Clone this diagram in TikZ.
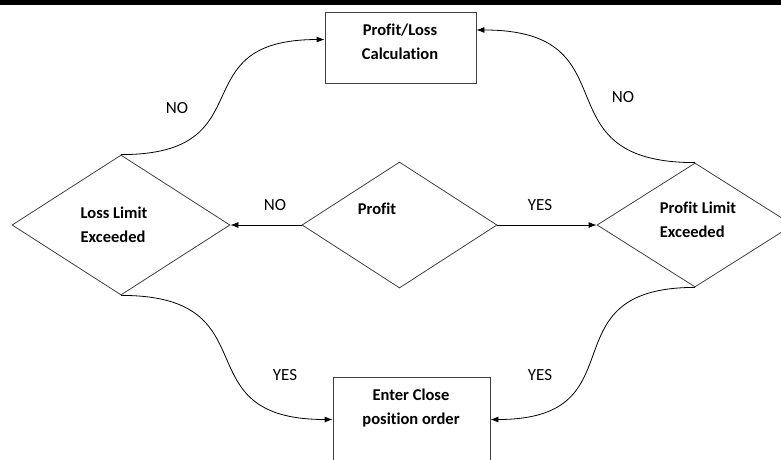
\documentclass[tikz,border=0pt]{standalone}
\usepackage{fontspec}
\setmainfont{Carlito}[Ligatures=NoCommon]
\usetikzlibrary{shapes.geometric,arrows.meta}

\tikzset{
  decision/.style={diamond, draw=black!75, line width=0.8pt, inner sep=0pt},
  stepbox/.style={rectangle, draw=black!75, line width=0.8pt, inner sep=0pt},
  boxtext/.style={font=\bfseries\fontsize{16.5}{24}\selectfont, align=left},
  answer/.style={font=\fontsize{17}{20}\selectfont},
  flow/.style={-{Latex[length=8pt,width=6pt]}, line width=0.8pt},
}

\begin{document}
\begin{tikzpicture}[x=1pt, y=-1pt]
  \clip (0,0) rectangle (781,459);
  \fill[black] (0,0) rectangle (781,4.5);

  % Boites
  \node[stepbox, minimum width=151pt, minimum height=71pt] (calc) at (400.5,47.5) {};
  \node[stepbox, minimum width=157pt, minimum height=85pt] (close) at (411.5,419.5) {};

  % Losanges
  \node[decision, minimum width=218pt, minimum height=140pt] (loss) at (121,225) {};
  \node[decision, minimum width=195pt, minimum height=126pt] (profit) at (399.5,225) {};
  \node[decision, minimum width=196pt, minimum height=124pt] (plimit) at (695,225) {};

  % Textes
  \node[boxtext, align=center] (calctext) at (400,41.5) {Profit/Loss\\Calculation};
  \node[boxtext, align=center] (closetext) at (411,407.5) {Enter Close\\position order};
  \node[boxtext] (losstext) at (114,225) {Loss Limit\\Exceeded};
  \node[boxtext] (profittext) at (377,209) {Profit};
  \node[boxtext] (plimittext) at (698,220) {Profit Limit\\Exceeded};

  % Reponses
  \node[answer] (nomid) at (275,205) {NO};
  \node[answer] (yesmid) at (540,205) {YES};
  \node[answer] (noleft) at (177,108) {NO};
  \node[answer] (noright) at (623,97) {NO};
  \node[answer] (yesleft) at (285,375) {YES};
  \node[answer] (yesright) at (540,375) {YES};

  % Fleches
  \draw[flow] (profit.west) -- (loss.east);
  \draw[flow] (profit.east) -- (plimit.west);
  \draw[flow] (loss.north) to[out=0, in=180, looseness=1.6] (calc.174);
  \draw[flow] (plimit.north) to[out=180, in=0, looseness=1.6] (calc.13);
  \draw[flow] (loss.south) to[out=0, in=180, looseness=1.6] (close.west);
  \draw[flow] (plimit.south) to[out=180, in=0, looseness=1.6] (close.east);
\end{tikzpicture}
\end{document}
